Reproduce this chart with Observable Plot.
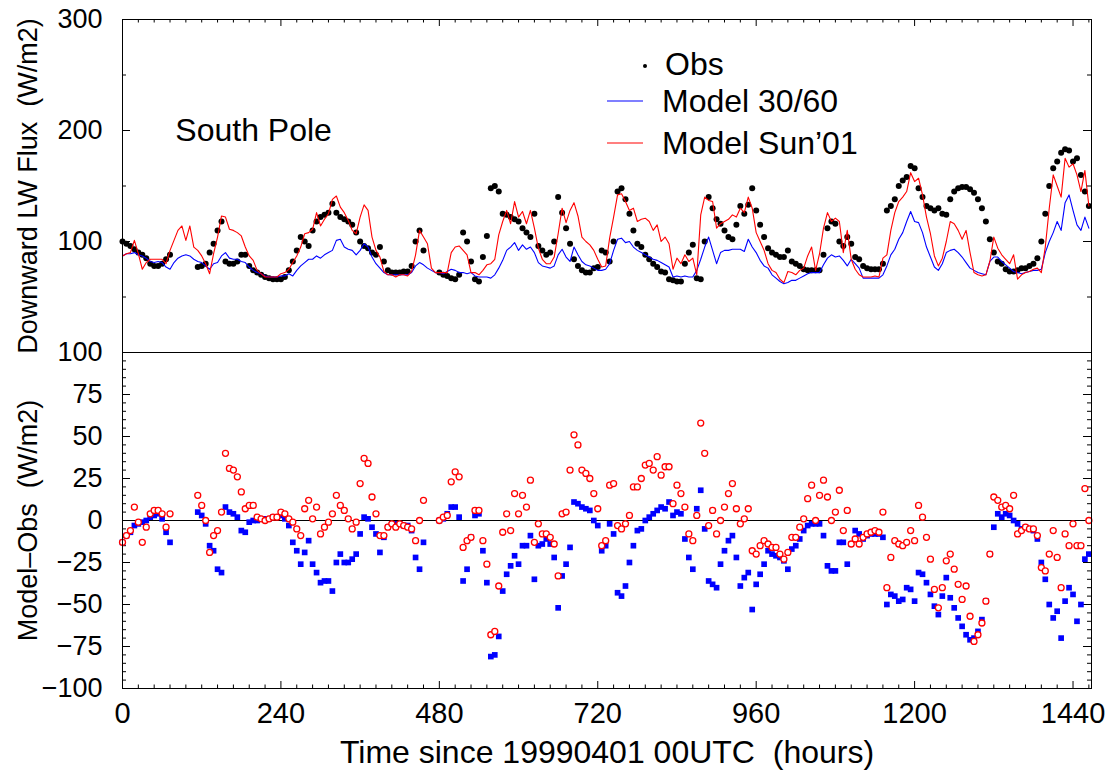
<!DOCTYPE html>
<html><head><meta charset="utf-8">
<script src="https://cdn.jsdelivr.net/npm/d3@7"></script>
<script src="https://cdn.jsdelivr.net/npm/@observablehq/plot@0.6"></script>
<style>
body{margin:0;background:#fff;}
#wrap{position:relative;width:1117px;height:778px;overflow:hidden;font-family:"Liberation Sans",Arial,sans-serif;color:#000;}
#wrap svg{position:absolute;left:0;overflow:visible;background:transparent;}
</style></head><body><div id="wrap"></div>
<script>
const STEP_HOURS = 6;
const obs = [
100,98,96,93,90,88,85,80,78,78,
80,84,88,null,null,null,null,null,null,77,
78,80,90,98,110,118,82,80,80,82,
88,88,78,74,72,70,68,67,66,66,
66,68,74,82,92,104,100,96,110,118,
122,124,126,134,126,122,120,118,115,108,
100,96,94,90,88,95,82,74,72,72,
72,73,73,78,100,110,92,null,null,null,
72,70,69,67,66,70,108,100,82,66,
64,86,105,148,150,145,125,124,122,120,
118,112,108,104,125,96,92,88,90,100,
140,126,112,98,84,78,74,72,72,76,
77,92,90,82,100,145,148,138,125,110,
98,95,88,84,80,77,73,72,66,65,
64,64,80,90,97,67,66,100,140,130,
120,116,110,104,102,115,132,125,133,148,
128,115,104,94,90,88,86,86,92,82,
80,78,75,74,74,74,74,88,112,118,
116,100,96,104,98,86,84,78,76,75,
75,75,80,128,132,138,150,155,158,168,
166,148,140,132,130,128,130,125,124,138,
145,148,149,149,147,144,138,130,118,102,
90,82,80,75,73,73,74,76,76,78,
80,85,100,125,150,166,172,180,183,182,
172,175,160,145,132];
const model3060 = [
87,89,89,90,88,87,85,82,81,82,
81,77,75,81,85,87,88,87,84,82,
81,78,75,80,81,87,90,85,84,84,
82,81,77,74,72,71,69,68,68,68,
69,69,71,69,74,78,81,84,84,87,
85,88,90,92,101,102,95,93,92,88,
92,98,95,86,80,76,72,70,70,70,
70,70,70,72,78,81,79,76,74,72,
72,71,73,75,74,72,72,71,72,69,
68,68,68,67,70,76,83,92,95,99,
92,97,93,95,90,81,78,77,76,78,
88,93,86,82,95,88,82,79,78,76,
74,74,75,80,92,102,103,99,100,95,
92,90,88,86,84,83,81,79,77,68,
69,68,69,68,68,74,84,95,104,92,
80,90,92,92,93,93,93,91,102,95,
90,83,78,76,70,67,64,62,63,65,
65,67,69,71,72,72,72,79,85,88,
86,87,83,78,84,80,76,67,67,67,
67,67,70,78,88,93,102,108,118,127,
118,117,108,95,86,77,74,80,90,92,
93,90,86,81,76,74,72,71,70,82,
86,86,82,79,76,73,72,71,72,73,
74,74,75,90,100,108,118,110,135,142,
128,115,110,122,112];
const modelSun01 = [
87,89,90,101,89,75,81,84,84,84,
84,80,92,101,110,114,101,114,95,92,
87,80,71,89,104,123,122,111,110,108,
105,95,87,83,74,71,68,68,68,68,
71,72,75,81,87,95,107,108,111,126,
114,120,125,138,141,131,126,119,110,107,
122,133,128,104,92,86,73,70,70,68,
70,70,69,73,88,110,104,98,76,72,
72,72,72,90,95,96,92,88,72,72,
70,74,79,80,84,106,118,128,116,136,
122,127,116,128,112,94,84,80,80,86,
107,130,117,128,135,123,104,100,97,92,
84,77,78,103,122,142,143,136,128,130,
118,120,121,118,110,115,100,104,98,75,
85,80,88,82,85,70,124,140,137,136,
112,116,118,120,124,122,130,126,140,130,
108,100,92,80,74,72,66,63,73,72,
70,74,76,87,95,74,89,112,126,118,
121,118,90,110,84,75,70,68,68,68,
69,68,85,88,110,126,136,140,145,162,
154,157,142,122,107,87,78,85,100,118,
116,110,102,110,90,72,70,69,70,82,
104,94,88,84,80,88,66,70,72,73,
75,76,72,95,130,160,150,140,175,167,
170,160,145,164,132];

const xTickLabels = [0,240,480,720,960,1200,1440];
const topYLabels = [100,200,300];
const bottomYLabels = [-100,-75,-50,-25,0,25,50,75,100];
const seriesNames = ["Obs","Model 30/60","Model Sun\u201901"];
const stationName = "South Pole";
const yTitleTop = "Downward LW Flux  (W/m2)";
const yTitleBottom = "Model\u2013Obs  (W/m2)";
const xTitle = "Time since 19990401 00UTC  (hours)";

// ---- Derived tables ----
const rows = obs.map((o,i)=>({h:i*STEP_HOURS, obs:o, m1:model3060[i], m2:modelSun01[i]}));
const diffs = rows.filter(d=>d.obs!=null).map(d=>({h:d.h, d1:d.m1-d.obs, d2:d.m2-d.obs}));

const xMinor = d3.range(0,1468,24).filter(v=>v%240!==0);
const topMinor = [50,150,250];
const bottomMinor = d3.range(-100,101,5).filter(v=>v%25!==0);

const W = 1117, ML = 122, MR = 26;
const innerW = W - ML - MR;
const xDomain = [0,1468];
const FONT = '"Liberation Sans", Arial, sans-serif';
const BLUE = "#0000ff", RED = "#ff0000";
const fmt = d => String(d).replace("-", "\u2212");

function yTicks(vals, len){
  return [
    Plot.tickY(vals,{y:d=>d, insetRight: innerW-len, stroke:"black", strokeWidth:1}),
    Plot.tickY(vals,{y:d=>d, insetLeft: innerW-len, stroke:"black", strokeWidth:1})
  ];
}

// ---- Top panel ----
const topH = 360, topMT = 19, topMB = 8, innerTop = topH-topMT-topMB;
const topPlot = Plot.plot({
  width:W, height:topH, marginLeft:ML, marginRight:MR, marginTop:topMT, marginBottom:topMB,
  x:{domain:xDomain, axis:null},
  y:{domain:[0,300]},
  style:{background:"transparent", overflow:"visible", fontFamily:FONT, color:"black"},
  marks:[
    ...yTicks(topYLabels,8),
    ...yTicks(topMinor,4),
    Plot.tickX(xTickLabels,{x:d=>d, insetBottom: innerTop-7, stroke:"black"}),
    Plot.tickX(xMinor,{x:d=>d, insetBottom: innerTop-3.5, stroke:"black"}),
    Plot.axisY(topYLabels,{tickSize:0, tickPadding:20, fontSize:27, label:null, tickFormat:fmt}),
    Plot.text([yTitleTop],{frameAnchor:"left", dx:-94, rotate:-90, fontSize:27, text:d=>d, textAnchor:"middle", lineAnchor:"middle"}),
    Plot.text([stationName],{x:[80], y:[200], text:d=>d, textAnchor:"start", lineAnchor:"middle", fontSize:32}),
    Plot.dot(rows,{x:"h", y:"obs", r:3, fill:"black", stroke:"none"}),
    Plot.line(rows,{x:"h", y:"m1", stroke:BLUE, strokeWidth:1.1}),
    Plot.line(rows,{x:"h", y:"m2", stroke:RED, strokeWidth:1.1}),
    Plot.frame({stroke:"black", strokeWidth:1})
  ]
});
topPlot.style.top = "0px";

// ---- Bottom panel ----
const botTopPx = 344, botH = 434, botMT = 8, botMB = 90, innerBot = botH-botMT-botMB;
const botPlot = Plot.plot({
  width:W, height:botH, marginLeft:ML, marginRight:MR, marginTop:botMT, marginBottom:botMB,
  x:{domain:xDomain},
  y:{domain:[-100,100]},
  style:{background:"transparent", overflow:"visible", fontFamily:FONT, color:"black"},
  marks:[
    Plot.ruleY([0],{stroke:"black", strokeWidth:1}),
    ...yTicks(bottomYLabels,8),
    ...yTicks(bottomMinor,4),
    Plot.tickX(xTickLabels,{x:d=>d, insetTop: innerBot-7, stroke:"black"}),
    Plot.tickX(xMinor,{x:d=>d, insetTop: innerBot-3.5, stroke:"black"}),
    Plot.axisY(bottomYLabels,{tickSize:0, tickPadding:20, fontSize:27, label:null, tickFormat:fmt}),
    Plot.axisX(xTickLabels,{tickSize:0, tickPadding:14, fontSize:29, label:null, tickFormat:fmt}),
    Plot.text([yTitleBottom],{frameAnchor:"left", dx:-94, rotate:-90, fontSize:27, text:d=>d, textAnchor:"middle", lineAnchor:"middle"}),
    Plot.text([xTitle],{frameAnchor:"bottom", dy:64, fontSize:32, text:d=>d, textAnchor:"middle", lineAnchor:"middle"}),
    Plot.dot(diffs,{x:"h", y:"d1", symbol:"square", r:3.2, fill:BLUE, stroke:"none"}),
    Plot.dot(diffs,{x:"h", y:"d2", r:3, fill:"white", stroke:RED, strokeWidth:1.3}),
    Plot.frame({stroke:"black", strokeWidth:1})
  ]
});
botPlot.style.top = botTopPx+"px";

const wrap = document.getElementById("wrap");
wrap.appendChild(topPlot);
wrap.appendChild(botPlot);

// ---- Legend (overlay) ----
const leg = d3.select(wrap).append("svg")
  .attr("width", W).attr("height", 200)
  .style("top","0px").style("pointer-events","none");
const legItems = [
  {name: seriesNames[0], kind:"dot", color:"black", y:64, tx:665},
  {name: seriesNames[1], kind:"line", color:BLUE, y:101, tx:662},
  {name: seriesNames[2], kind:"line", color:RED, y:143, tx:662}
];
legItems.forEach(it=>{
  if (it.kind==="dot") leg.append("circle").attr("cx",645).attr("cy",it.y+2).attr("r",2).attr("fill","black");
  else leg.append("line").attr("x1",607).attr("x2",643).attr("y1",it.y).attr("y2",it.y).attr("stroke",it.color).attr("stroke-width",1.2);
  leg.append("text").attr("x",it.tx).attr("y",it.y).attr("dy","0.35em")
    .attr("font-family",FONT).attr("font-size",32).attr("fill","black").text(it.name);
});
</script></body></html>
